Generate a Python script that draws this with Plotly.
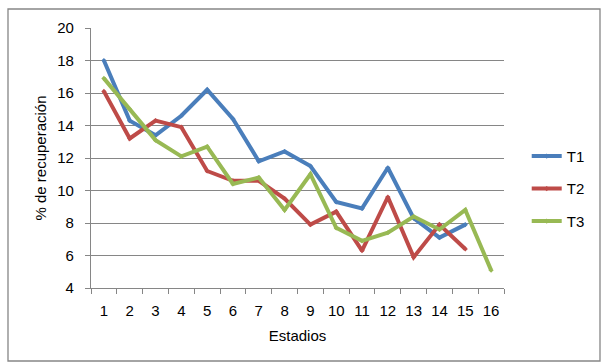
import plotly.graph_objects as go

estadios = [str(i) for i in range(1, 17)]
t1 = [18.0, 14.3, 13.4, 14.6, 16.2, 14.4, 11.8, 12.4, 11.5, 9.3, 8.9, 11.4, 8.3, 7.1, 7.9]
t2 = [16.1, 13.2, 14.3, 13.9, 11.2, 10.6, 10.6, 9.5, 7.9, 8.7, 6.3, 9.6, 5.9, 7.9, 6.4]
t3 = [16.9, 15.0, 13.1, 12.1, 12.7, 10.4, 10.8, 8.8, 11.0, 7.7, 6.9, 7.4, 8.4, 7.6, 8.8, 5.1]

series = [("T1", t1, "#4A7EBB"), ("T2", t2, "#BE4B48"), ("T3", t3, "#98B954")]

font_family = "Liberation Sans, Arial, sans-serif"

fig = go.Figure()
for name, vals, color in series:
    fig.add_trace(go.Scatter(
        x=estadios[:len(vals)], y=vals, name=name, mode="lines+markers",
        line=dict(color=color, width=4),
        marker=dict(size=4, color=color, symbol="diamond"),
        legendgroup=name,
    ))

fig.update_layout(
    width=602, height=363,
    margin=dict(l=91, r=98, t=28, b=75),
    paper_bgcolor="white", plot_bgcolor="white",
    font=dict(family=font_family, size=15, color="#000000"),
    showlegend=True,
    legend=dict(
        x=1.055, y=0.57, xanchor="left", yanchor="top",
        font=dict(size=15), tracegroupgap=10,
        itemwidth=30, bgcolor="rgba(0,0,0,0)",
    ),
    xaxis=dict(
        type="category", categoryorder="array", categoryarray=estadios,
        range=[-0.5, 15.5],
        tickson="boundaries", ticks="outside", ticklen=5, tickwidth=1.3,
        tickcolor="#868686", tickangle=0,
        showline=True, linecolor="#868686", linewidth=1.3,
        showgrid=False, ticklabelstandoff=9,
        title=dict(text="Estadios", font=dict(size=15), standoff=12),
        tickfont=dict(size=15),
    ),
    yaxis=dict(
        range=[4, 20], dtick=2, tick0=4,
        ticks="outside", ticklen=5, tickwidth=1.3, tickcolor="#868686",
        showline=True, linecolor="#868686", linewidth=1.3,
        showgrid=True, gridcolor="#868686", gridwidth=1.3,
        zeroline=False, ticklabelstandoff=8,
        title=dict(text="% de recuperación", font=dict(size=15), standoff=6),
        tickfont=dict(size=15),
    ),
    shapes=[dict(
        type="rect", xref="paper", yref="paper",
        x0=(8 - 91) / 413, x1=(600 - 91) / 413,
        y0=(288 - 361) / 260, y1=(288 - 9) / 260,
        line=dict(color="#868686", width=1.3), fillcolor="rgba(0,0,0,0)",
        layer="below",
    )],
)

fig.write_html("out.html")
